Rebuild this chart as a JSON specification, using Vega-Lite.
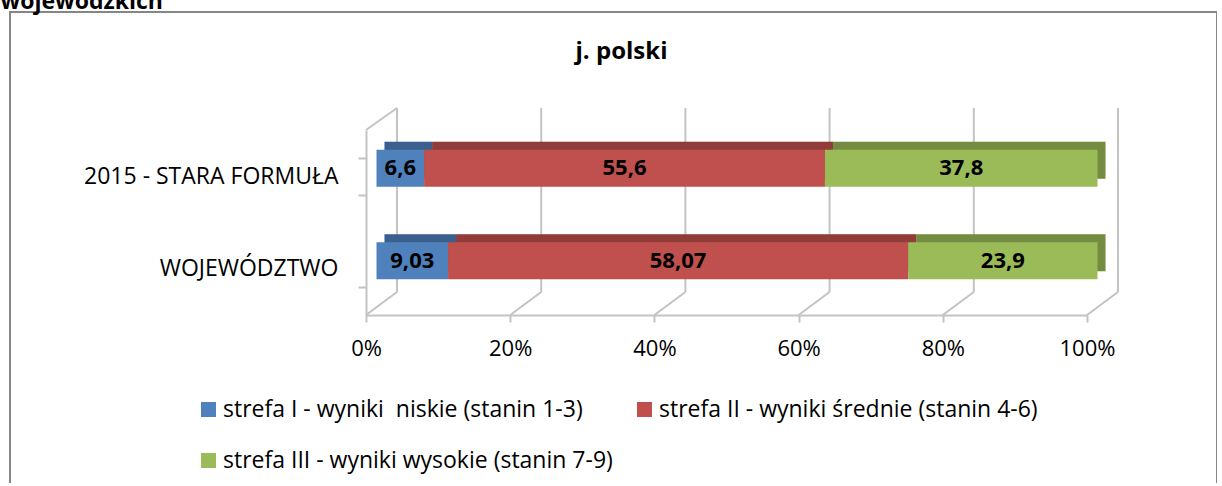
{
  "$schema": "https://vega.github.io/schema/vega-lite/v6.json",
  "width": 1207,
  "height": 474,
  "autosize": {"type": "none"},
  "padding": {"left": 10, "top": 12, "right": 0, "bottom": -3},
  "background": "white",
  "config": {
    "font": "Open Sans",
    "view": {"stroke": "#868686", "strokeWidth": 2},
    "locale": {"number": {"decimal": ",", "thousands": " ", "grouping": [3], "currency": ["", " zł"]}}
  },
  "resolve": {"scale": {"y": "independent"}},
  "layer": [
    {
      "data": {"values": [{"p": 0}, {"p": 0.2}, {"p": 0.4}, {"p": 0.6}, {"p": 0.8}, {"p": 1}]},
      "mark": {"type": "rule", "color": "#c3c3c3", "strokeWidth": 2, "xOffset": 31, "yOffset": -23, "y2Offset": -22},
      "encoding": {
        "x": {"field": "p", "type": "quantitative", "title": "j. polski", "scale": {"domain": [0, 1], "range": [356, 1077], "nice": false}},
        "y": {"datum": 0, "type": "quantitative", "scale": {"domain": [0, 1], "range": [303, 118]}, "axis": null},
        "y2": {"datum": 1}
      }
    },
    {
      "data": {"values": [{"p": 0}, {"p": 0.2}, {"p": 0.4}, {"p": 0.6}, {"p": 0.8}, {"p": 1}]},
      "mark": {"type": "rule", "color": "#c3c3c3", "strokeWidth": 2, "x2Offset": 31, "y2Offset": -23},
      "encoding": {
        "x": {"field": "p", "type": "quantitative", "title": "j. polski", "scale": {"domain": [0, 1], "range": [356, 1077], "nice": false}},
        "x2": {"field": "p"},
        "y": {"datum": 0, "type": "quantitative", "scale": {"domain": [0, 1], "range": [303, 118]}, "axis": null},
        "y2": {"datum": 0}
      }
    },
    {
      "data": {"values": [{"p": 0}]},
      "mark": {"type": "rule", "color": "#c3c3c3", "strokeWidth": 2, "x2Offset": 31, "y2Offset": -22},
      "encoding": {
        "x": {"field": "p", "type": "quantitative", "title": "j. polski", "scale": {"domain": [0, 1], "range": [356, 1077], "nice": false}},
        "x2": {"field": "p"},
        "y": {"datum": 1, "type": "quantitative", "scale": {"domain": [0, 1], "range": [303, 118]}, "axis": null},
        "y2": {"datum": 1}
      }
    },
    {
      "data": {"values": [
        {"kat": "2015 - STARA FORMUŁA", "strefa": "strefa I - wyniki \u00a0niskie (stanin 1-3)", "v": 6.6},
        {"kat": "2015 - STARA FORMUŁA", "strefa": "strefa II - wyniki średnie (stanin 4-6)", "v": 55.6},
        {"kat": "2015 - STARA FORMUŁA", "strefa": "strefa III - wyniki wysokie (stanin 7-9)", "v": 37.8},
        {"kat": "WOJEWÓDZTWO", "strefa": "strefa I - wyniki \u00a0niskie (stanin 1-3)", "v": 9.03},
        {"kat": "WOJEWÓDZTWO", "strefa": "strefa II - wyniki średnie (stanin 4-6)", "v": 58.07},
        {"kat": "WOJEWÓDZTWO", "strefa": "strefa III - wyniki wysokie (stanin 7-9)", "v": 23.9}
      ]},
      "transform": [
        {"stack": "v", "groupby": ["kat"], "offset": "normalize", "sort": [{"field": "strefa", "order": "ascending"}], "as": ["x0", "x1"]}
      ],
      "layer": [
        {
          "mark": {"type": "bar", "xOffset": 18.5, "x2Offset": 18.5, "yOffset": -16, "y2Offset": -16},
          "encoding": {
            "x": {"field": "x0", "type": "quantitative", "title": "j. polski", "scale": {"domain": [0, 1], "range": [356, 1077], "nice": false}},
            "x2": {"field": "x1"},
            "y": {"field": "kat", "type": "nominal", "scale": {"domain": ["2015 - STARA FORMUŁA", "WOJEWÓDZTWO"], "range": [118, 303], "paddingInner": 0.6, "paddingOuter": 0.3}},
            "color": {"field": "strefa", "type": "nominal", "scale": {"domain": ["strefa I - wyniki \u00a0niskie (stanin 1-3)", "strefa II - wyniki średnie (stanin 4-6)", "strefa III - wyniki wysokie (stanin 7-9)"], "range": ["#4f81bd", "#c0504d", "#9bbb59"]}}
          }
        },
        {
          "mark": {"type": "bar", "xOffset": 18.5, "x2Offset": 18.5, "yOffset": -16, "y2Offset": -16, "color": "#000", "opacity": 0.25},
          "encoding": {
            "x": {"field": "x0", "type": "quantitative", "title": "j. polski", "scale": {"domain": [0, 1], "range": [356, 1077], "nice": false}},
            "x2": {"field": "x1"},
            "y": {"field": "kat", "type": "nominal", "scale": {"domain": ["2015 - STARA FORMUŁA", "WOJEWÓDZTWO"], "range": [118, 303], "paddingInner": 0.6, "paddingOuter": 0.3}},
            "detail": {"field": "strefa", "type": "nominal"}
          }
        },
        {
          "mark": {"type": "bar", "xOffset": 10.5, "x2Offset": 10.5, "yOffset": -8, "y2Offset": -8},
          "encoding": {
            "x": {"field": "x0", "type": "quantitative", "title": "j. polski", "scale": {"domain": [0, 1], "range": [356, 1077], "nice": false},
              "axis": {"orient": "bottom", "offset": -171, "values": [0, 0.2, 0.4, 0.6, 0.8, 1], "format": "%", "grid": false, "labelFontSize": 22, "labelColor": "#000", "labelPadding": 16, "tickSize": 7, "tickColor": "#c3c3c3", "tickWidth": 2, "domainColor": "#c3c3c3", "domainWidth": 2, "labelFlush": false,
                "title": "j. polski", "titleX": 611, "titleY": -257, "titleAlign": "center", "titleBaseline": "alphabetic", "titleAngle": 0, "titleFontSize": 24, "titleFontWeight": "bold", "titleColor": "#000"}},
            "x2": {"field": "x1"},
            "y": {"field": "kat", "type": "nominal", "scale": {"domain": ["2015 - STARA FORMUŁA", "WOJEWÓDZTWO"], "range": [118, 303], "paddingInner": 0.6, "paddingOuter": 0.3},
              "axis": {"orient": "left", "offset": -356, "title": "wojewódzkich", "titleAngle": 0, "titleAlign": "left", "titleBaseline": "alphabetic", "titleX": -366, "titleY": -4, "titleFontSize": 23, "titleFontWeight": "bold", "titleColor": "#000", "labelFontSize": 23, "labelColor": "#000", "labelPadding": 20, "tickSize": 8, "tickColor": "#c3c3c3", "tickWidth": 2, "domainColor": "#c3c3c3", "domainWidth": 2, "tickBand": "extent", "grid": false, "labelLimit": 400}},
            "color": {"field": "strefa", "type": "nominal",
              "scale": {"domain": ["strefa I - wyniki \u00a0niskie (stanin 1-3)", "strefa II - wyniki średnie (stanin 4-6)", "strefa III - wyniki wysokie (stanin 7-9)"], "range": ["#4f81bd", "#c0504d", "#9bbb59"]},
              "legend": {"orient": "none", "legendX": 187, "legendY": 386, "direction": "horizontal", "columns": 2, "gridAlign": "none", "columnPadding": 20, "rowPadding": 27, "symbolType": "square", "symbolSize": 225, "symbolStrokeWidth": 0, "symbolOpacity": 1, "labelFontSize": 23, "labelColor": "#000", "labelOffset": 3, "labelLimit": 600, "title": null, "padding": 0}}
          }
        },
        {
          "transform": [
            {"fold": ["x0", "x1"], "as": ["k", "xv"]},
            {"aggregate": [{"op": "mean", "field": "xv", "as": "mid"}], "groupby": ["kat", "strefa", "v"]}
          ],
          "mark": {"type": "text", "fontWeight": "bold", "fontSize": 22, "dx": 10.5, "dy": -8, "color": "#000", "baseline": "middle"},
          "encoding": {
            "x": {"field": "mid", "type": "quantitative", "title": "j. polski", "scale": {"domain": [0, 1], "range": [356, 1077], "nice": false}},
            "y": {"field": "kat", "type": "nominal", "scale": {"domain": ["2015 - STARA FORMUŁA", "WOJEWÓDZTWO"], "range": [118, 303], "paddingInner": 0.6, "paddingOuter": 0.3}},
            "text": {"field": "v", "type": "quantitative", "format": "~g"}
          }
        }
      ]
    }
  ]
}
